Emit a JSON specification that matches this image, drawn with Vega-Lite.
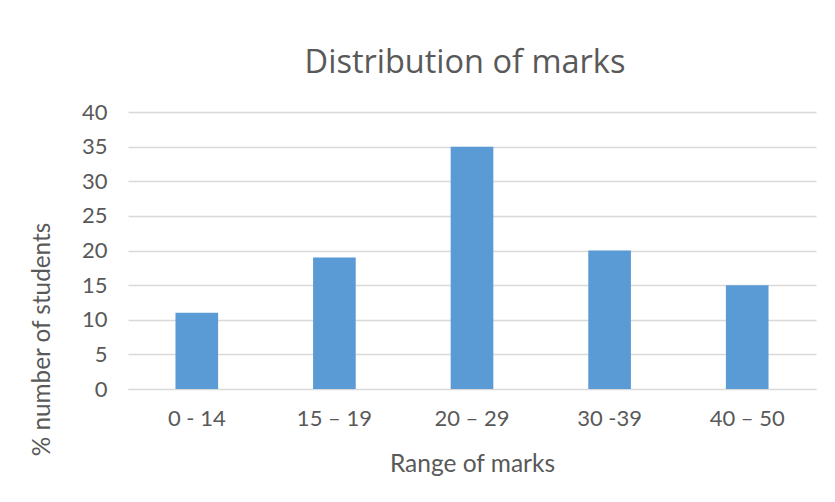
{
  "$schema": "https://vega.github.io/schema/vega-lite/v6.json",
  "autosize": "none",
  "width": 688,
  "height": 277,
  "padding": {"left": 128, "top": 112, "right": 19, "bottom": 113},
  "background": "white",
  "config": {
    "font": "Lato",
    "view": {"stroke": null}
  },
  "title": {
    "text": "Distribution of marks",
    "fontSize": 32.5,
    "font": "Open Sans",
    "fontWeight": "normal",
    "color": "#595959",
    "anchor": "middle",
    "frame": "group",
    "dx": -7,
    "offset": 22
  },
  "data": {
    "values": [
      {"range": "0 - 14", "pct": 11},
      {"range": "15 – 19", "pct": 19},
      {"range": "20 – 29", "pct": 35},
      {"range": "30 -39", "pct": 20},
      {"range": "40 – 50", "pct": 15}
    ]
  },
  "mark": {"type": "bar", "color": "#5b9bd5"},
  "encoding": {
    "x": {
      "field": "range",
      "type": "nominal",
      "sort": null,
      "scale": {"paddingInner": 0.69, "paddingOuter": 0.345},
      "axis": {
        "title": "Range of marks",
        "labelAngle": 0,
        "labelFontSize": 22,
        "labelColor": "#595959",
        "labelPadding": 19,
        "ticks": false,
        "domain": true,
        "domainColor": "#d9d9d9",
        "titleFontSize": 24.5,
        "titleFontWeight": "normal",
        "titleColor": "#595959",
        "titleY": 82,
        "titleBaseline": "alphabetic"
      }
    },
    "y": {
      "field": "pct",
      "type": "quantitative",
      "scale": {"domain": [0, 40]},
      "axis": {
        "title": "% number of students",
        "values": [0, 5, 10, 15, 20, 25, 30, 35, 40],
        "labelFontSize": 22,
        "labelColor": "#595959",
        "labelPadding": 21,
        "ticks": false,
        "domain": false,
        "grid": true,
        "gridColor": "#d9d9d9",
        "gridWidth": 1.3,
        "titleFontSize": 24.3,
        "titleFontWeight": "normal",
        "titleColor": "#595959",
        "titleX": -86,
        "titleY": 227,
        "titleAngle": -90,
        "titleAlign": "center",
        "titleBaseline": "middle"
      }
    }
  }
}
